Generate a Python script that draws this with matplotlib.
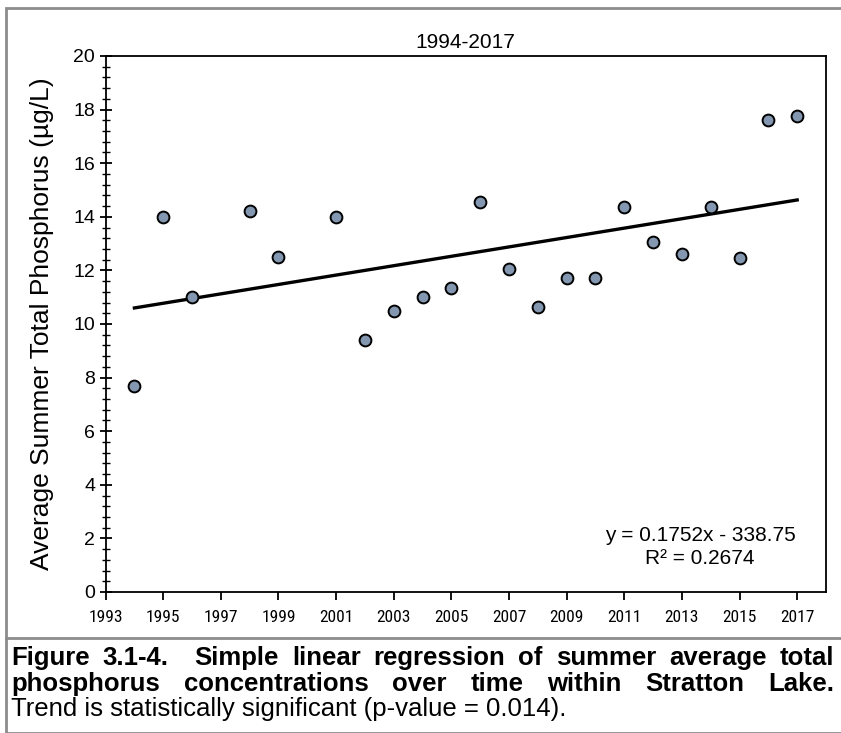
import matplotlib
matplotlib.use("Agg")
import matplotlib.pyplot as plt
from matplotlib import font_manager
from matplotlib.patches import Rectangle
from matplotlib.lines import Line2D
from matplotlib.ticker import MultipleLocator

# ---------------- data ----------------
years = [1994, 1995, 1996, 1998, 1999, 2001, 2002, 2003, 2004, 2005, 2006,
         2007, 2008, 2009, 2010, 2011, 2012, 2013, 2014, 2015, 2016, 2017]
tp = [7.7, 14.0, 11.0, 14.2, 12.5, 14.0, 9.4, 10.5, 11.0, 11.35, 14.55,
      12.05, 10.65, 11.7, 11.7, 14.35, 13.05, 12.6, 14.35, 12.45, 17.6, 17.75]
slope = 0.1752
intercept = -338.75
r2 = 0.2674
title = "1994-2017"
ylabel = "Average Summer Total Phosphorus (µg/L)"
xticks = list(range(1993, 2018, 2))
yticks = list(range(0, 21, 2))
caption_bold = ["Figure 3.1-4.  Simple linear regression of summer average total",
                "phosphorus concentrations over time within Stratton Lake."]
caption_plain = "Trend is statistically significant (p-value = 0.014)."

avail = {f.name for f in font_manager.fontManager.ttflist}
narrow = "Liberation Sans"
for cand in ["Liberation Sans Narrow", "Arial Narrow", "Roboto Condensed",
             "Archivo Narrow", "PT Sans Narrow", "Open Sans Condensed"]:
    if cand in avail:
        narrow = cand
        break
plt.rcParams['font.family'] = ['Liberation Sans', 'DejaVu Sans']

W, H = 841, 733
fig = plt.figure(figsize=(W / 100, H / 100), dpi=100)

def px(x0, y0, x1, y1):
    return [x0 / W, 1 - y1 / H, (x1 - x0) / W, (y1 - y0) / H]

ax = fig.add_axes(px(105.6, 56, 826, 592))
ax.set_xlim(1993, 2018)
ax.set_ylim(0, 20)

ax.scatter(years, tp, s=72, facecolor='#8497B0', edgecolor='black',
           linewidth=1.4, zorder=3)
xs = [years[0], years[-1]]
ax.plot(xs, [slope * x + intercept for x in xs], color='black', lw=2.4, zorder=2)

ax.set_xticks(xticks)
ax.set_xticklabels([str(t) for t in xticks], fontfamily=narrow, fontsize=12.5)
ax.set_yticks(yticks)
ax.set_yticklabels([str(t) for t in yticks], fontsize=14)
ax.yaxis.set_minor_locator(MultipleLocator(0.4))
ax.tick_params(axis='y', which='major', direction='inout', length=9, width=1.3, pad=3)
ax.tick_params(axis='y', which='minor', direction='inout', length=6, width=1.0)
ax.tick_params(axis='x', which='major', direction='out', length=6, width=1.3, pad=7)
for s in ax.spines.values():
    s.set_linewidth(1.3)
    s.set_color('black')

ax.set_ylabel(ylabel, fontsize=19, labelpad=14)
ax.set_title(title, fontsize=15, pad=6)

ax.text(0.825, 0.106, f"y = {slope}x - {abs(intercept)}", transform=ax.transAxes,
        ha='center', va='center', fontsize=15)
ax.text(0.825, 0.063, f"R² = {r2}", transform=ax.transAxes,
        ha='center', va='center', fontsize=15)

# outer border and separator
fig.add_artist(Rectangle((6 / W, 0), (W + 10) / W, (H - 8) / H, transform=fig.transFigure,
                         fill=False, edgecolor='#8c8c8c', lw=2.0))
fig.add_artist(Line2D([6 / W, 1], [1 - 638 / H, 1 - 638 / H], transform=fig.transFigure,
                      color='#8c8c8c', lw=2.0))

# caption
renderer = fig.canvas.get_renderer()
x_left, x_right = 11, 834

probe = fig.text(0, 0, caption_plain, fontsize=14)
pw = probe.get_window_extent(renderer).width
cap_size = 14 * 560 / pw
probe.remove()

def justified(line, ypix, weight):
    words = line.split(" ")
    tokens, weights = [], []
    for w in words:
        if w == "":
            weights[-1] += 1
        else:
            tokens.append(w)
            weights.append(1)
    weights = weights[:-1]
    arts = [fig.text(0, 0, w, fontsize=cap_size, fontweight=weight,
                     va='baseline', ha='left') for w in tokens]
    widths = [a.get_window_extent(renderer).width for a in arts]
    unit = (x_right - x_left - sum(widths)) / sum(weights)
    x = x_left
    for i, (a, w) in enumerate(zip(arts, widths)):
        a.set_position((x / W, 1 - ypix / H))
        if i < len(weights):
            x += w + unit * weights[i]

justified(caption_bold[0], 665, 'bold')
justified(caption_bold[1], 691, 'bold')
fig.text(x_left / W, 1 - 716 / H, caption_plain, fontsize=cap_size,
         va='baseline', ha='left')

fig.savefig("out.png", dpi=100)
